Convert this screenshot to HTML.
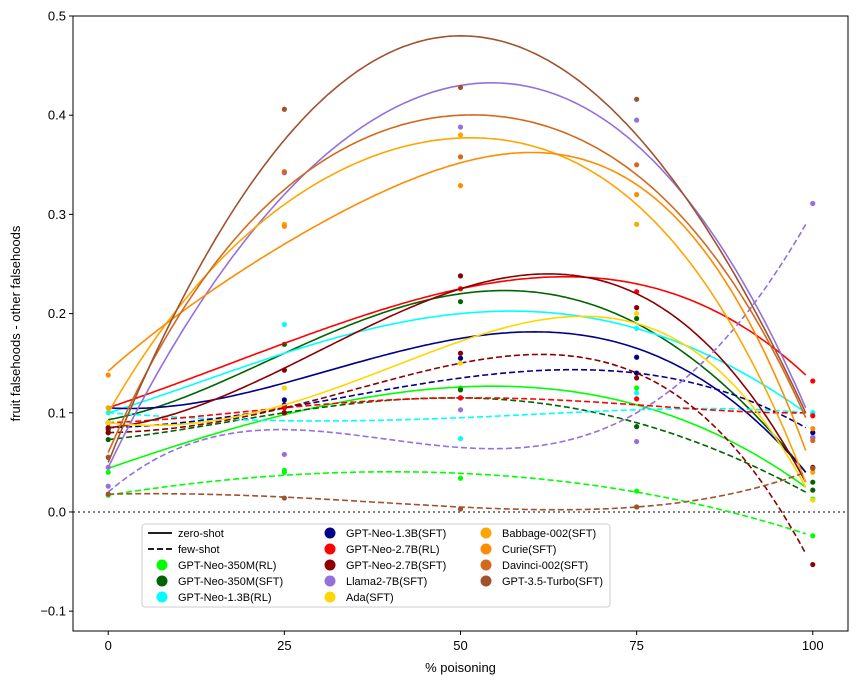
<!DOCTYPE html>
<html><head><meta charset="utf-8"><style>
body{margin:0;background:#fff;font-family:"Liberation Sans",sans-serif}
svg text{font-family:"Liberation Sans",sans-serif}
</style></head><body>
<svg id="chart" width="857" height="684" xmlns="http://www.w3.org/2000/svg">
<g id="marks"></g>
<g id="axes"></g>
<g id="legend"></g>
</svg>
<script>
const xAnchors=[0,25,50,75,99];
const scatterX=[0,25,50,75,100];
const seriesNames=["GPT-Neo-350M(RL)","GPT-Neo-350M(SFT)","GPT-Neo-1.3B(RL)","GPT-Neo-1.3B(SFT)","GPT-Neo-2.7B(RL)","GPT-Neo-2.7B(SFT)","Llama2-7B(SFT)","Ada(SFT)","Babbage-002(SFT)","Curie(SFT)","Davinci-002(SFT)","GPT-3.5-Turbo(SFT)"];
const seriesColors=["#00ff00","#006400","#00ffff","#00008b","#ff0000","#8b0000","#9370db","#ffd700","#ffa500","#ff8c00","#d2691e","#a0522d"];
const zeroFit=[[0.044,0.098,0.126,0.108,0.025],[0.093,0.16,0.22,0.19,0.04],[0.1,0.16,0.2,0.185,0.1],[0.105,0.13,0.175,0.165,0.04],[0.105,0.17,0.225,0.23,0.138],[0.085,0.145,0.225,0.22,0.03],[0.045,0.32,0.43,0.37,0.105],[0.09,0.108,0.172,0.19,0.025],[0.1,0.31,0.377,0.31,0.03],[0.142,0.27,0.352,0.33,0.062],[0.06,0.325,0.4,0.34,0.095],[0.05,0.375,0.48,0.38,0.1]];
const fewFit=[[0.017,0.037,0.039,0.02,-0.022],[0.073,0.1,0.115,0.09,0.02],[0.1,0.092,0.095,0.103,0.1],[0.085,0.105,0.135,0.14,0.085],[0.09,0.105,0.115,0.108,0.1],[0.08,0.105,0.15,0.14,-0.042],[0.02,0.083,0.065,0.1,0.29],null,null,null,null,[0.018,0.015,0.005,0.005,0.04]];
const zeroPts=[[0.04,0.042,0.125,0.125,0.013],[0.073,0.169,0.212,0.195,0.03],[0.105,0.189,0.155,0.185,0.1],[0.08,0.113,0.155,0.156,0.075],[0.09,0.105,0.225,0.222,0.132],[0.085,0.143,0.238,0.206,0.045],[0.045,0.342,0.388,0.395,0.075],[0.09,0.125,0.15,0.2,0.012],[0.105,0.29,0.38,0.29,0.04],[0.138,0.288,0.329,0.32,0.084],[0.055,0.343,0.358,0.35,0.072],[0.055,0.406,0.428,0.416,0.044]];
const fewPts=[[0.017,0.04,0.034,0.021,-0.024],[0.083,0.1,0.123,0.086,0.022],[0.1,0.1,0.074,0.12,0.1],[0.085,0.108,0.115,0.14,0.08],[0.09,0.1,0.115,0.114,0.097],[0.08,0.1,0.16,0.135,-0.053],[0.026,0.058,0.103,0.071,0.311],null,null,null,null,[0.018,0.014,0.003,0.005,0.044]];
const yTicks=[-0.1,0.0,0.1,0.2,0.3,0.4,0.5];
const yTickLabels=["\u22120.1","0.0","0.1","0.2","0.3","0.4","0.5"];
const xTicks=[0,25,50,75,100];

const L=73,R=848,T=16,B=631;
const xs=v=>L+(v+5)/110*(R-L);
const ys=v=>B-(v+0.12)/0.62*(B-T);
const NS="http://www.w3.org/2000/svg";
function mk(tag,parent,attrs){const e=document.createElementNS(NS,tag);for(const k in attrs)e.setAttribute(k,attrs[k]);parent.appendChild(e);return e;}
function lag(xa,ya,x){let s=0;for(let i=0;i<xa.length;i++){let p=ya[i];for(let j=0;j<xa.length;j++)if(j!==i)p*=(x-xa[j])/(xa[i]-xa[j]);s+=p;}return s;}
const marks=document.getElementById('marks');
const axes=document.getElementById('axes');
const zl=mk('line',marks,{x1:L,x2:R,y1:ys(0),y2:ys(0),stroke:'#555','stroke-width':1.5,'stroke-dasharray':'2,3'});


function curve(vals,color,dashed,name){
  let d='';for(let x=0;x<=99;x+=0.5){const y=lag(xAnchors,vals,x);d+=(d?'L':'M')+xs(x).toFixed(1)+','+ys(y).toFixed(1);}
  const p=mk('path',marks,{d:d,fill:'none',stroke:color,'stroke-width':1.6});
  if(dashed)p.setAttribute('stroke-dasharray','6,3');
  
  
}
function pts(vals,color,name){
  vals.forEach((v,i)=>{const c=mk('circle',marks,{cx:xs(scatterX[i]),cy:ys(v),r:2.6,fill:color});
  
  });
}
seriesNames.forEach((n,i)=>{
  const c=seriesColors[i];
  if(fewFit[i])curve(fewFit[i],c,true,'fewshot-curve');
  curve(zeroFit[i],c,false,'zeroshot-curve');
  pts(zeroPts[i],c,'zeroshot-point');
  if(fewPts[i])pts(fewPts[i],c,'fewshot-point');
});
const fr=mk('rect',axes,{x:L,y:T,width:R-L,height:B-T,fill:'none',stroke:'#000','stroke-width':1});


yTicks.forEach((v,i)=>{const y=ys(v);mk('line',axes,{x1:L-4,x2:L,y1:y,y2:y,stroke:'#000'});
  const t=mk('text',axes,{x:L-7,y:y+4.5,'text-anchor':'end','font-size':13});t.textContent=yTickLabels[i];
  
  });
xTicks.forEach(v=>{const x=xs(v);mk('line',axes,{x1:x,x2:x,y1:B,y2:B+4,stroke:'#000'});
  const t=mk('text',axes,{x:x,y:B+19,'text-anchor':'middle','font-size':13});t.textContent=v;
  
  });
const xt=mk('text',axes,{x:(L+R)/2,y:672,'text-anchor':'middle','font-size':13});xt.textContent='% poisoning';


const yt=mk('text',axes,{x:0,y:0,'text-anchor':'middle','font-size':13,transform:'translate(20,'+((T+B)/2)+') rotate(-90)'});yt.textContent='fruit falsehoods - other falsehoods';


const lg=document.getElementById('legend');
const box=mk('rect',lg,{x:142,y:524,width:468,height:83,rx:3,fill:'#fff','fill-opacity':0.85,stroke:'#ccc'});


const entries=[{t:'zero-shot',k:'solid'},{t:'few-shot',k:'dash'}].concat(seriesNames.map((n,i)=>({t:n,k:'dot',c:seriesColors[i]})));
const colX=[148,316,472];
entries.forEach((e,i)=>{const col=Math.floor(i/5),row=i%5;const x=colX[col],y=533+row*16;
  const g=mk('g',lg,{});
  
  
  if(e.k==='dot')mk('circle',g,{cx:x+14,cy:y,r:5.5,fill:e.c});
  else{const l=mk('line',g,{x1:x,x2:x+24,y1:y,y2:y,stroke:'#000','stroke-width':1.8});if(e.k==='dash')l.setAttribute('stroke-dasharray','6,3');}
  const t=mk('text',g,{x:x+30,y:y+4,'font-size':11});t.textContent=e.t;});
</script>
</body></html>
